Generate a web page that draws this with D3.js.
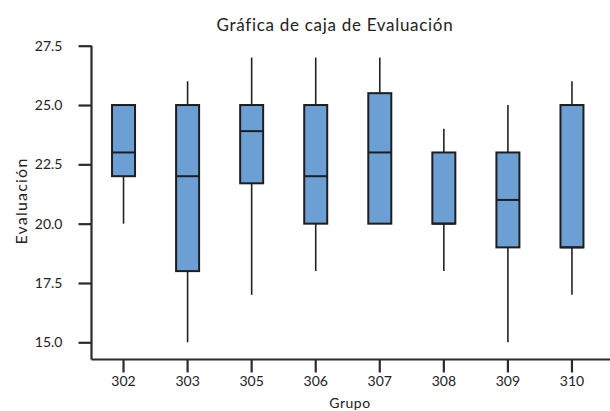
<!DOCTYPE html>
<html><head><meta charset="utf-8">
<script src="https://cdn.jsdelivr.net/npm/d3@7"></script>
<style>body{margin:0;background:#fff}svg{display:block}text{font-family:Lato,"Open Sans",sans-serif;fill:#222}</style>
</head><body><div id="chart"></div>
<script>
const categories = ["302","303","305","306","307","308","309","310"];
const whiskerLow  = [20, 15, 17, 18, 20, 18, 15, 17];
const q1          = [22, 18, 21.7, 20, 20, 20, 19, 19];
const median      = [23, 22, 23.9, 22, 23, 20, 21, 19];
const q3          = [25, 25, 25, 25, 25.5, 23, 23, 25];
const whiskerHigh = [25, 26, 27, 27, 27, 24, 25, 26];
const yTicks = [15, 17.5, 20, 22.5, 25, 27.5];

const W = 610, H = 411;
const svg = d3.select("#chart").append("svg").attr("width", W).attr("height", H);
const x = d3.scaleBand().domain(categories).range([91.5, 604]).paddingInner(0).paddingOuter(0);
const y = d3.scaleLinear().domain([15, 27.5]).range([342.3, 45.7]);
const data = categories.map((c,i)=>({c, lo:whiskerLow[i], q1:q1[i], med:median[i], q3:q3[i], hi:whiskerHigh[i]}));
const bw = 23;

svg.append("text").attr("x", 335).attr("y", 30.5).attr("text-anchor","middle")
  .style("font-size","17px").style("letter-spacing","0.7px").text("Gráfica de caja de Evaluación");

const g = svg.append("g");
data.forEach(d=>{
  const cx = x(d.c) + x.bandwidth()/2;
  g.append("line").attr("x1",cx).attr("x2",cx).attr("y1",y(d.hi)).attr("y2",y(d.lo)).attr("stroke","#222").attr("stroke-width",1.6);
  g.append("rect").attr("x",cx-bw/2).attr("width",bw).attr("y",y(d.q3)).attr("height",y(d.q1)-y(d.q3))
    .attr("fill","#6c9fd4").attr("stroke","#1e1e1e").attr("stroke-width",2);
  g.append("line").attr("x1",cx-bw/2).attr("x2",cx+bw/2).attr("y1",y(d.med)).attr("y2",y(d.med)).attr("stroke","#1e1e1e").attr("stroke-width",2);
});

// axes
const ya = svg.append("g").attr("transform","translate(91.5,0)")
  .call(d3.axisLeft(y).tickValues(yTicks).tickFormat(d3.format(".1f")).tickSize(13).tickPadding(16).tickSizeOuter(0));
ya.select(".domain").attr("d", `M0,${y(27.5)}V359.5`);
const xa = svg.append("g").attr("transform","translate(0,359.5)")
  .call(d3.axisBottom(x).tickSize(13).tickPadding(4).tickSizeOuter(0));
xa.select(".domain").attr("d","M91.5,0H610");
svg.selectAll(".domain").attr("stroke","#2a2a2a").attr("stroke-width",2.2);
svg.selectAll(".tick line").attr("stroke","#2a2a2a").attr("stroke-width",2.2);
svg.selectAll(".tick text").style("font-size","14px").attr("fill","#222").style("font-family","Lato, 'Open Sans', sans-serif");
svg.append("text").attr("transform","translate(27,201) rotate(-90)").attr("text-anchor","middle")
  .style("font-size","16px").style("letter-spacing","1.2px").text("Evaluación");
svg.append("text").attr("x", 350).attr("y", 407.5).attr("text-anchor","middle")
  .style("font-size","14px").style("letter-spacing","0.5px").text("Grupo");
</script></body></html>
